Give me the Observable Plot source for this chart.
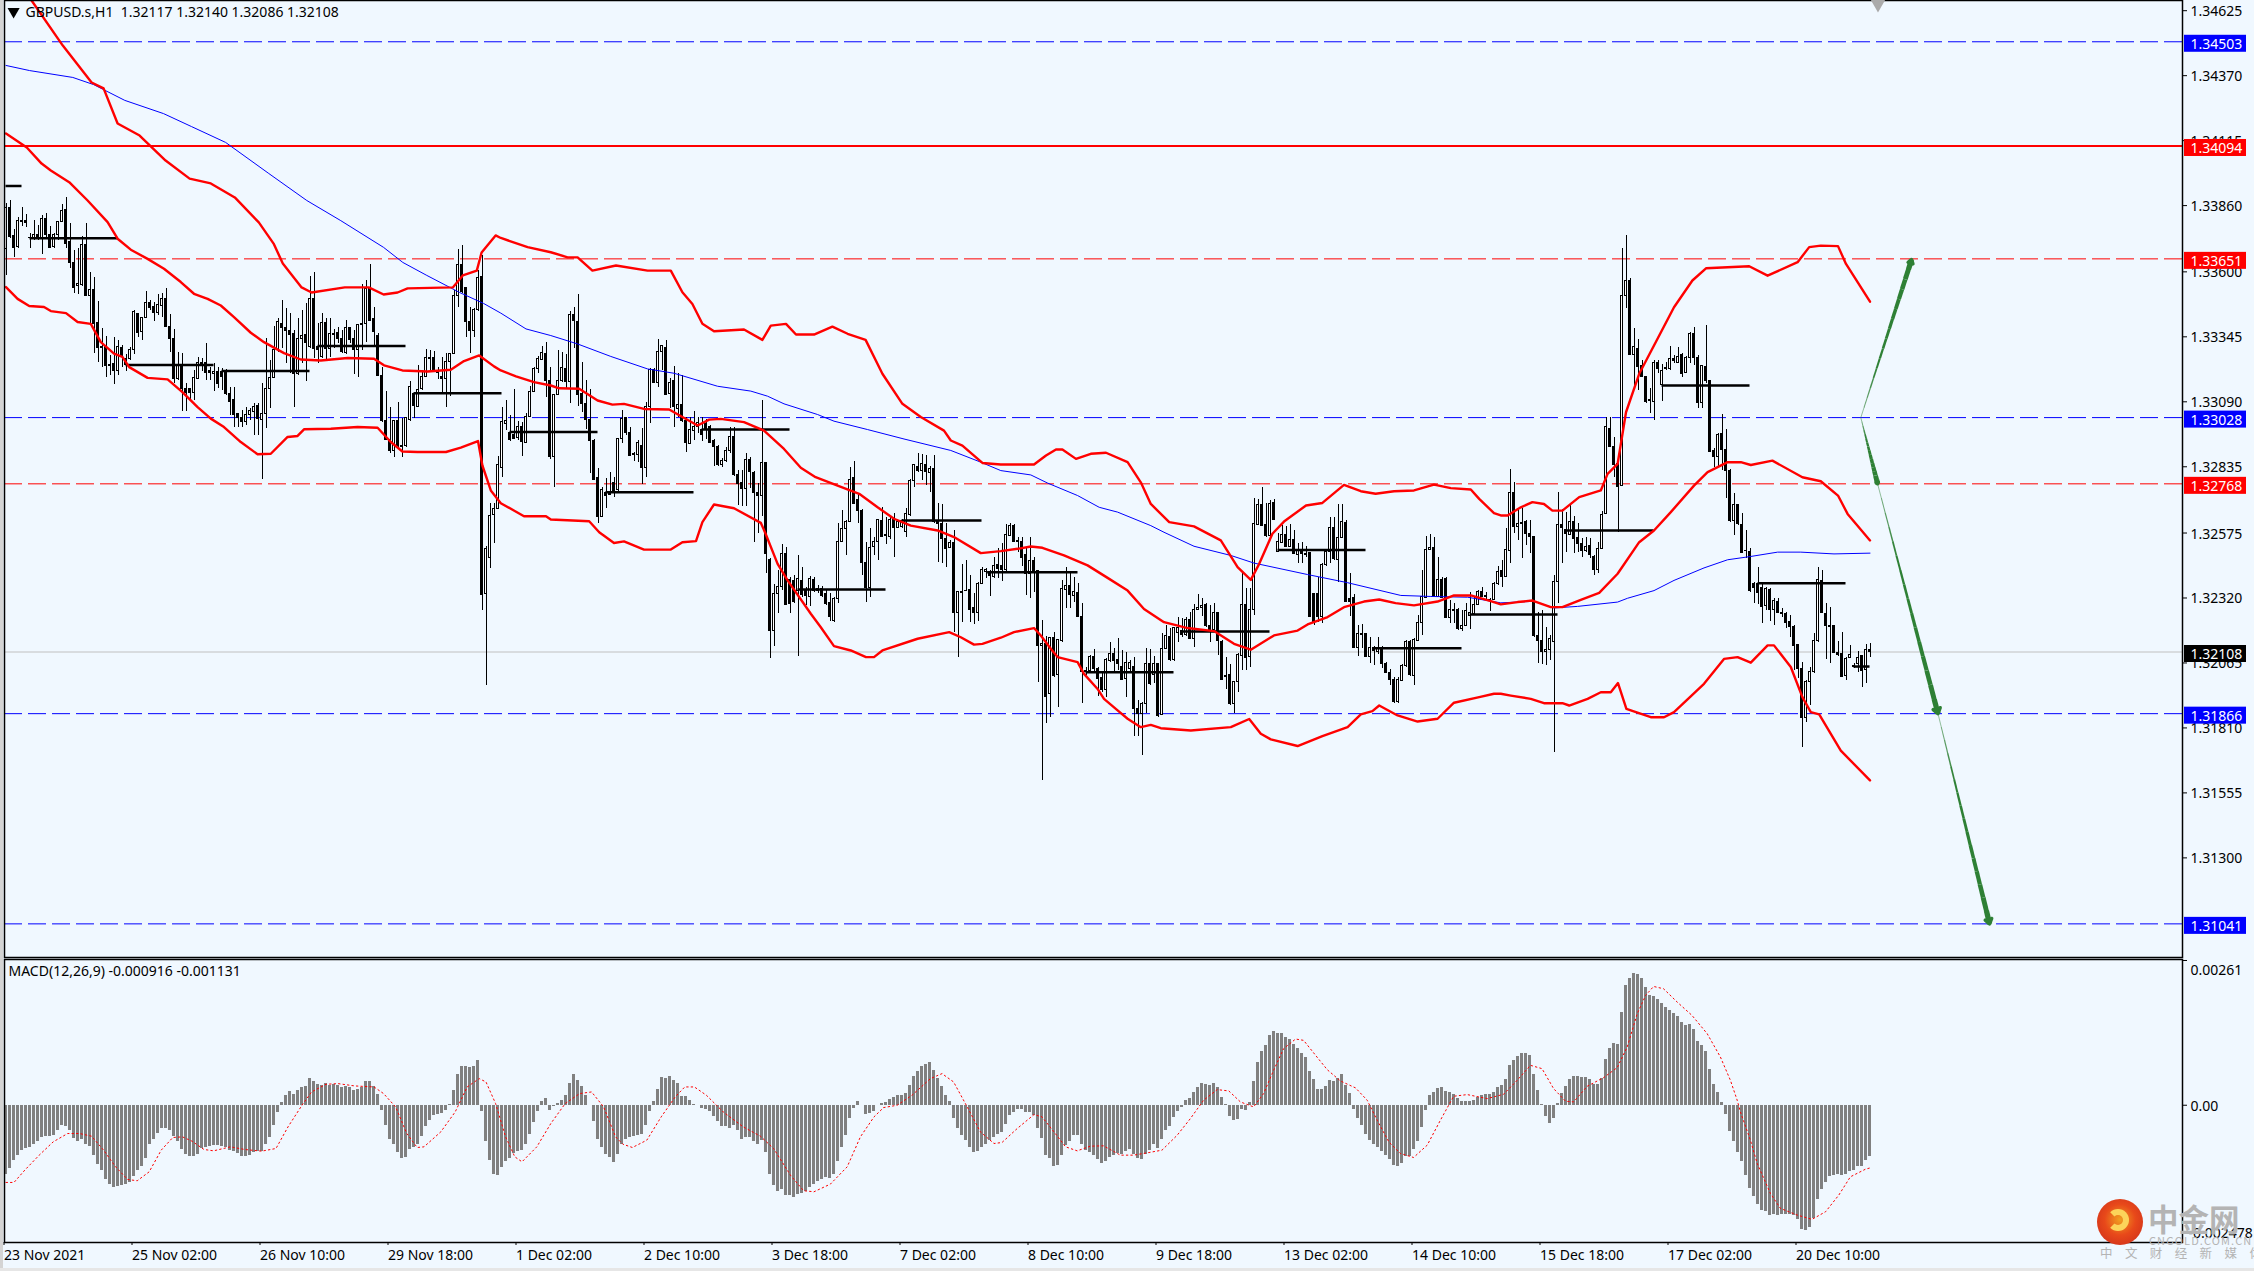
<!DOCTYPE html>
<html><head><meta charset="utf-8">
<script src="https://cdn.jsdelivr.net/npm/d3@7"></script>
<script src="https://cdn.jsdelivr.net/npm/@observablehq/plot@0.6"></script>
<style>
html,body{margin:0;padding:0;background:#f0f8ff;width:2254px;height:1271px;overflow:hidden}
#wrap{position:relative;width:2254px;height:1271px}
#wrap svg{position:absolute;left:0;display:block}
#stripL{position:absolute;left:0;top:0;width:3px;height:1268px;background:#d4d4d4}
#stripB{position:absolute;left:0;top:1268px;width:2254px;height:3px;background:#e6e6e6}
.wm{position:absolute;color:#b4b4b4;white-space:nowrap;font-family:"Noto Sans CJK SC"}
</style></head><body><div id="wrap"><div id="stripL"></div><div id="stripB"></div></div>
<script>
// All candle values are in points above 1.30000 (1 point = 0.00001)
const highs=[
3867,3880,3765,3815,3851,3825,3749,3802,3782,3821,
3828,3778,3749,3795,3863,3893,3789,3684,3691,3739,
3789,3599,3579,3484,3377,3347,3272,3344,3331,3311,
3275,3305,3449,3433,3420,3523,3488,3481,3511,3514,
3534,3432,3373,3282,3279,3161,3141,3213,3265,3259,
3318,3226,3239,3226,3220,3217,3148,3145,3046,3056,
3069,3063,3082,3082,3163,3337,3252,3386,3416,3488,
3455,3436,3370,3416,3449,3475,3583,3596,3396,3436,
3416,3416,3373,3383,3370,3409,3383,3368,3392,3551,
3566,3628,3462,3357,3226,3131,3069,3017,3086,3024,
3030,3170,3122,3233,3213,3296,3292,3288,3226,3265,
3279,3279,3527,3687,3704,3538,3462,3455,3606,3664,
2522,2691,2691,2875,
3069,3095,3036,3137,3014,3010,3045,3150,3226,3268,
3308,3321,3223,3118,3291,3285,3275,3444,3461,3513,
3243,3173,3137,2941,2827,2752,2788,2811,2794,2945,
3056,3030,2990,2892,2938,2984,3088,3219,3219,3334,
3311,3330,3180,3228,3202,3193,3030,3030,3052,3030,
3030,3019,2997,2941,2918,2866,2912,2988,2988,2820,
2820,2888,2873,2818,2768,3095,2853,2474,2373,2428,
2530,2519,2402,2408,2487,2441,2362,2404,2402,2369,
2365,2349,2336,2323,2614,2663,2624,2831,2854,2729,
2666,2539,2594,2559,2627,2674,2637,2635,2650,2624,
2627,2670,2784,2844,2888,2883,2879,2836,2879,2689,
2687,2611,2546,2585,2347,2451,2467,2408,2336,2382,
2438,2434,2428,2480,2513,
2533,2608,2611,2608,2559,2559,2519,2556,2480,2428,
2232,2169,2166,2186,2158,2389,2441,2425,2402,2376,
2297,2049,2094,2117,2049,2022,2081,2144,2121,2160,
2114,2107,2075,2088,1918,1911,2121,2117,2090,2064,
2182,2212,2199,2205,2245,2238,2245,2264,2294,2334,
2317,2297,2291,2297,2264,2153,2085,2059,1994,2101,
2415,2356,2356,2709,2705,2752,2689,2703,2705,2572,
2604,2601,2608,2585,2533,2539,2522,2497,2339,2402,
2454,2506,2635,2635,2686,2686,2624,2415,2334,2212,
2215,2182,2166,2130,2164,2130,2068,2038,2009,2009,
2059,2153,2153,2160,2251,2428,2561,2569,2556,2480,
2402,2402,2310,2297,2277,2271,2297,2343,2323,2349,
2362,2343,2317,2382,2444,
2467,2591,2823,2774,2670,2670,2624,2624,2561,2264,
2271,2205,2173,2408,2733,2666,2657,2683,2640,2611,
2552,2559,2552,2487,2536,2661,3030,3030,2948,2853,
3690,3742,3572,3376,3334,3252,3190,3141,3252,3252,
3235,3245,3308,3272,3302,3278,3268,3363,3383,3272,
3232,3389,3173,2905,2964,3040,2980,2823,2731,2687,
2653,2585,2513,2382,2438,2376,2362,2356,2317,2319,
2277,2262,2251,2212,2134,2066,1996,2048,2179,2441,
2428,2300,2284,2212,2151,2186,2088,2134,2062,2111,
2094,2136,2140];
const lows=[
3586,3730,3655,3691,3778,3773,3693,3723,3723,3667,
3730,3691,3693,3723,3795,3691,3612,3517,3511,3543,
3504,3396,3279,3246,3226,3187,3194,3157,3194,3226,
3207,3252,3276,3344,3331,3416,3449,3407,3429,3422,
3381,3285,3161,3174,3050,3050,3095,3095,3177,3207,
3174,3174,3132,3141,3135,3115,3037,2988,2988,2991,
2997,3017,2958,2958,2784,2984,3063,3180,3285,3298,
3239,3200,3069,3194,3239,3171,3298,3259,3239,3259,
3252,3265,3298,3318,3281,3275,3318,3196,3187,3292,
3324,3407,3305,3191,3010,2939,2886,2873,2912,2873,
2912,3014,3024,3067,3135,3184,3213,3204,3177,3122,
3067,3109,3276,3462,3517,3344,3279,3344,3446,2271,
1976,2436,2534,2671,
2794,2977,2935,2941,2938,2875,2925,3027,3125,3202,
3252,3108,2862,2755,3115,3167,3141,3082,3298,3071,
3049,2981,2807,2781,2614,2635,2670,2722,2716,2739,
2925,2958,2875,2857,2853,2764,2794,3003,3160,3147,
3213,3115,3062,2990,3030,3010,2892,2922,2938,2967,
2934,2941,2928,2836,2836,2833,2853,2888,2798,2683,
2679,2679,2748,2539,2572,2640,2417,2084,2130,2258,
2349,2290,2258,2297,2092,2323,2290,2287,2343,2336,
2323,2290,2229,2222,2300,2536,2487,2617,2687,2611,
2408,2304,2323,2487,2467,2559,2530,2548,2480,2591,
2591,2556,2640,2755,2814,2781,2761,2735,2614,2461,
2457,2438,2513,2186,2088,2222,2347,2225,2215,2229,
2373,2395,2327,2395,2395,
2386,2425,2561,2536,2500,2444,2330,2317,2343,1990,
1604,1826,1852,2009,1892,2147,2277,2277,2304,2242,
1907,2016,2029,2029,1933,1950,1931,2068,2029,2035,
1996,1928,2029,1777,1777,1702,1865,1977,1983,1852,
1859,2117,2071,2072,2147,2166,2170,2156,2124,2271,
2247,2205,2147,2192,2094,1996,1960,1898,1865,1950,
2035,2035,2049,2251,2607,2601,2556,2552,2624,2500,
2533,2517,2517,2491,2454,2457,2480,2242,2212,2225,
2219,2444,2457,2467,2382,2552,2301,2249,2123,2090,
2121,2085,2064,2055,2098,2042,2022,1977,1907,1907,
1994,2049,2012,1977,2151,2173,2317,2506,2323,2321,
2317,2238,2219,2221,2192,2190,2209,2195,2255,2291,
2321,2310,2268,2310,2369,
2362,2399,2454,2572,2546,2474,2526,2493,2166,2062,
2058,2055,2075,1715,2300,2454,2500,2565,2496,2500,
2478,2500,2474,2408,2415,2509,2648,2909,2794,2578,
2757,3457,3272,3154,3134,3184,3082,3043,3016,3200,
3091,3213,3213,3239,3243,3184,3200,3239,3232,3062,
3062,3160,2890,2833,2836,2820,2709,2617,2565,2604,
2493,2474,2343,2300,2294,2219,2271,2229,2212,2258,
2245,2199,2166,2035,2003,1732,1833,1898,2025,2144,
2258,2077,2062,2101,2090,2007,1996,2081,2042,2029,
1970,1986,2086];
const opens=[
3691,3851,3739,3697,3799,3799,3733,3732,3746,3732,
3808,3746,3697,3746,3795,3844,3717,3634,3544,3549,
3704,3505,3530,3399,3305,3305,3235,3239,3211,3302,
3259,3258,3292,3433,3364,3420,3477,3462,3438,3466,
3494,3383,3337,3178,3233,3141,3141,3124,3181,3240,
3242,3209,3200,3208,3208,3208,3122,3098,3041,3028,
3010,3037,3050,3072,3020,3043,3141,3184,3292,3396,
3379,3366,3357,3200,3335,3351,3305,3494,3305,3266,
3400,3298,3353,3361,3337,3281,3379,3337,3294,3392,
3394,3531,3416,3348,3191,3014,2941,2897,3014,2918,
2915,3020,3122,3069,3139,3187,3259,3262,3209,3187,
3178,3246,3279,3505,3625,3538,3405,3368,3451,3579,
2337,2475,2644,2671,
2831,3003,2968,2958,2948,2993,2929,3030,3128,3219,
3254,3278,3173,2873,3117,3171,3220,3169,3431,3405,
3121,3082,3019,2938,2791,2637,2733,2735,2772,2742,
2945,3027,2969,2886,2883,2918,2831,3069,3215,3163,
3287,3302,3121,3171,3062,3079,3014,2925,2977,2990,
2980,3001,2990,2938,2914,2842,2857,2895,2951,2803,
2771,2748,2862,2811,2734,2721,2849,2470,2190,2336,
2362,2493,2391,2386,2349,2385,2349,2323,2391,2356,
2356,2334,2302,2229,2317,2539,2591,2620,2791,2703,
2663,2457,2360,2519,2539,2624,2569,2559,2627,2595,
2598,2578,2644,2778,2836,2818,2842,2810,2827,2617,
2611,2552,2515,2536,2260,2340,2347,2352,2281,2260,
2375,2421,2421,2402,2450,
2447,2428,2565,2604,2542,2539,2487,2415,2465,2425,
2131,2140,1944,2164,2016,2153,2352,2369,2327,2340,
2245,2032,2035,2090,2042,2007,1957,2072,2101,2075,
2051,2001,2042,2051,1885,1863,1905,2062,2016,2062,
1859,2121,2166,2075,2182,2190,2173,2234,2160,2274,
2280,2291,2212,2196,2262,2149,2012,2016,1902,1991,
2094,2294,2088,2274,2608,2683,2607,2565,2692,2502,
2535,2568,2519,2546,2487,2504,2493,2496,2336,2336,
2245,2448,2500,2595,2470,2556,2615,2315,2321,2124,
2173,2179,2088,2124,2107,2124,2062,2026,1999,1911,
1996,2054,2149,2012,2153,2223,2321,2509,2517,2323,
2391,2395,2242,2271,2271,2199,2212,2251,2258,2293,
2345,2328,2314,2313,2373,
2425,2402,2506,2733,2598,2610,2617,2572,2559,2170,
2151,2107,2116,2147,2382,2607,2585,2569,2620,2555,
2533,2504,2523,2480,2428,2513,2648,2984,2914,2846,
2761,3507,3566,3274,3298,3232,3189,3098,3088,3243,
3154,3222,3219,3258,3244,3272,3202,3261,3357,3262,
3087,3228,3173,2895,2873,2964,2899,2820,2624,2683,
2608,2506,2500,2373,2375,2360,2288,2353,2274,2306,
2262,2258,2225,2205,2134,2042,1848,1990,2029,2151,
2386,2258,2211,2211,2103,2101,2013,2084,2055,2059,
2093,2038,2117];
const closes=[
3851,3736,3695,3798,3797,3793,3732,3746,3732,3808,
3743,3695,3746,3795,3838,3710,3634,3538,3553,3706,
3505,3530,3396,3301,3303,3230,3230,3211,3305,3268,
3233,3294,3441,3360,3420,3479,3459,3438,3468,3494,
3383,3337,3178,3230,3141,3124,3124,3184,3242,3242,
3204,3204,3208,3161,3187,3119,3089,3037,3028,3010,
3039,3052,3069,3024,3043,3141,3184,3292,3405,3379,
3366,3353,3200,3337,3348,3320,3494,3296,3292,3400,
3298,3357,3357,3335,3285,3379,3334,3294,3392,3396,
3531,3409,3364,3191,3014,2941,2897,3014,2915,2912,
3027,3150,3072,3137,3187,3263,3263,3207,3204,3180,
3248,3279,3505,3628,3521,3403,3368,3451,3577,2333,
2514,2640,2671,2840,
3010,3014,2941,2945,2990,2931,3032,3128,3219,3258,
3282,3173,2873,3118,3173,3223,3167,3431,3406,3115,
3082,3019,2935,2784,2637,2742,2722,2725,2739,2945,
3023,2967,2879,2882,2930,2831,3069,3215,3163,3287,
3308,3118,3163,3069,3078,3014,2927,2980,2993,3006,
2961,2980,2930,2912,2840,2859,2895,2951,2801,2768,
2748,2862,2814,2731,2721,2850,2493,2190,2336,2365,
2491,2294,2297,2304,2395,2330,2326,2395,2347,2349,
2327,2297,2245,2317,2539,2591,2620,2784,2689,2663,
2457,2360,2517,2539,2627,2561,2564,2627,2595,2620,
2624,2650,2781,2840,2820,2846,2814,2828,2617,2611,
2552,2513,2536,2260,2343,2345,2349,2274,2260,2375,
2430,2428,2406,2447,2434,
2428,2568,2604,2539,2539,2476,2415,2465,2421,2131,
2140,1931,2164,2012,2156,2356,2368,2330,2343,2245,
2029,2029,2090,2042,2003,1957,2075,2101,2072,2062,
1999,2064,2066,1885,1863,1905,2062,1983,2062,1855,
2121,2170,2075,2203,2203,2173,2234,2160,2274,2280,
2288,2209,2196,2262,2151,1999,2008,1902,1991,2098,
2294,2085,2274,2611,2683,2604,2563,2689,2627,2539,
2568,2519,2546,2493,2504,2493,2488,2245,2225,2245,
2450,2502,2595,2474,2556,2620,2304,2304,2124,2177,
2179,2088,2124,2111,2120,2062,2026,1999,1911,1999,
2055,2149,2016,2156,2223,2323,2509,2517,2326,2391,
2321,2242,2274,2268,2199,2212,2268,2260,2294,2345,
2323,2325,2310,2376,2421,
2404,2509,2733,2598,2611,2615,2572,2559,2169,2151,
2107,2116,2160,2382,2608,2594,2572,2620,2552,2533,
2504,2522,2487,2430,2513,2644,2990,2912,2842,2755,
3507,3566,3274,3307,3226,3186,3088,3092,3243,3219,
3209,3218,3258,3249,3265,3200,3262,3357,3262,3087,
3231,3173,2892,2873,2961,2899,2818,2624,2683,2611,
2496,2504,2347,2358,2340,2284,2356,2271,2310,2260,
2258,2221,2205,2131,2042,1848,1990,2029,2151,2389,
2260,2212,2208,2103,2098,2009,2081,2096,2051,2085,
2033,2117,2108];

// Bollinger bands and moving average: bar position, then points above 1.30000
const upperBar=[0,6.4,14.2,21.4,24.4,27.9,33.4,39.9,45.9,51.2,57.2,63.2,66.9,69.2,73.9,76.4,84.7,90.7,94.4,97.9,100.4,111.7,114.2,117.7,118.9,122.4,123.7,130.4,136.2,140.4,142.9,146.6,152.5,160.4,166.2,169.1,171.6,174.1,177,184.5,189.1,191.2,195,197.5,202,206.6,210.4,214.9,219.1,224.1,228.7,234.5,236.2,239.1,244.1,248.7,257,260,262.5,264.1,267.5,271.2,275,280.4,283.7,286.2,290.8,297,303.7,307.9,311.2,313.3,316.6,319.5,325,329.1,334.5,338.7,342.4,347,352,357,361.2,366.2,368.3,372,373.7,375.4,378.7,381.6,384.5,386.6,389.1,393.3,398.7,400.4,402.9,405,408.3,412,417,421.6,425,435.8,440.4,447.9,450.8,453.7,458,460,466];
const upperVal=[4810,4665,4488,4343,4320,4182,4135,4037,3966,3947,3892,3794,3711,3633,3539,3519,3539,3539,3511,3519,3535,3539,3586,3605,3676,3743,3733,3697,3677,3657,3657,3605,3625,3605,3605,3520,3474,3396,3367,3374,3333,3389,3396,3354,3354,3385,3357,3333,3200,3082,3030,2977,2938,2918,2850,2844,2844,2879,2903,2903,2866,2886,2890,2853,2774,2689,2618,2601,2546,2441,2391,2454,2572,2620,2683,2693,2764,2739,2729,2739,2742,2765,2751,2746,2709,2653,2644,2644,2676,2696,2689,2663,2663,2716,2742,2807,2846,3049,3200,3311,3461,3566,3614,3622,3585,3638,3697,3703,3701,3631,3483];
const midBar=[0,5.2,8.9,11.2,15.8,20.4,25.4,27.9,31.2,35.4,39.5,43.7,47,50.4,53.7,57,61.2,64.5,69.5,73.7,78.7,85.4,92,94.5,99.1,105.4,111.2,114.5,118.3,122,123.7,127.5,132,136.2,138.3,143.3,147.9,151.6,154.5,159.5,165.8,169.1,172.9,175.8,178.7,184.5,189.5,194.5,198.7,202.4,207.9,213.3,217.9,222,226.2,232.9,237,243.7,248.7,252.9,256.2,259.1,264.5,270.4,275.4,280.4,284.5,289.5,295.4,302,307,311.2,317,322.9,325.4,330.4,334.5,339.5,343.3,347.4,352,357.9,362,366.2,371.2,373.7,377.9,381.6,386.2,389.1,393.7,398.3,402.9,408.3,412,416.2,422,425.4,430.4,433.7,436.2,441.6,449.1,453.7,458,460.4,466];
const midVal=[4143,4088,4025,3998,3952,3880,3795,3730,3687,3651,3612,3560,3514,3494,3468,3422,3361,3324,3281,3256,3252,3262,3259,3233,3213,3209,3216,3250,3272,3229,3213,3190,3167,3154,3143,3141,3095,3079,3082,3062,3060,3030,2997,3020,3023,3010,2977,2905,2831,2794,2761,2729,2676,2631,2604,2585,2559,2496,2504,2513,2522,2517,2487,2448,2399,2349,2277,2225,2202,2190,2140,2117,2173,2192,2216,2245,2284,2306,2314,2300,2291,2306,2330,2330,2308,2295,2304,2310,2284,2284,2313,2340,2415,2539,2585,2657,2761,2814,2853,2853,2842,2859,2794,2778,2722,2650,2546];
const lowerBar=[0,2.9,5.8,9.5,11.2,15,17.9,21.2,23.7,27,29.1,30.8,35.4,40.4,44.1,47.9,51.2,54.5,58.7,62.9,66.2,70.4,72.9,74.5,81.2,87.9,92.9,96.2,99.1,102.9,110,113.7,118,119.1,121.2,123.7,129.5,135,136.2,145.8,148.3,152,154.5,159.5,166.2,169.1,172.5,174.1,177,182,188.7,189.9,192.9,195.4,201.2,203.7,207,211.2,215,217,219.1,227.9,235.8,238.7,242,244.1,248.7,252,257,258.7,261.2,262.9,267.9,269.5,272.9,274.5,277.9,280.4,283.7,286.2,288.7,296.2,306.2,310.8,313.7,316.2,322.9,329.1,335.4,338.7,341.6,343.3,347.9,352.9,357.9,362,368.3,372,373.7,376.2,381.2,384.5,389.1,390.8,395.4,398.7,401.2,403,405.1,411.2,414.5,417,424.5,429.5,432.9,436.2,440.4,442,446.2,449.1,451.2,453.3,458.7,466];
const lowerVal=[3540,3494,3466,3462,3446,3438,3403,3396,3324,3279,3266,3226,3184,3178,3128,3069,3024,2991,2932,2884,2886,2952,2956,2982,2984,2991,2988,2932,2895,2893,2893,2910,2936,2840,2742,2692,2641,2641,2628,2621,2578,2536,2542,2510,2510,2539,2543,2618,2687,2672,2615,2572,2454,2389,2258,2205,2131,2114,2088,2088,2114,2160,2186,2166,2137,2140,2164,2186,2202,2173,2121,2088,2068,2022,1963,1924,1879,1846,1813,1822,1809,1800,1813,1845,1787,1765,1739,1778,1813,1863,1876,1898,1859,1835,1846,1909,1931,1944,1944,1937,1924,1907,1907,1898,1924,1950,1950,1986,1885,1852,1852,1872,1983,2081,2088,2066,2134,2134,2049,1931,1872,1863,1721,1604];
const smaBar=[0,5.9,16.7,21.9,29.7,39.4,46.4,54.9,65.7,75.2,83.7,94.4,99.2,105.2,113.4,119.4,123.7,130,136.2,142.9,151.2,160.4,167,177.9,186.2,190.4,194.5,202.9,207,215.4,224.5,236.2,243.7,248.7,256.2,260.4,267.9,273.3,277.9,286.2,289.5,297,306.2,312,325.4,335.4,348.7,356.2,365.4,373.7,382,387,392.9,402.9,405.4,412,417,424.5,430.4,436.2,442.9,448.7,457,466];
const smaVal=[4410,4390,4363,4335,4273,4221,4170,4108,3986,3880,3801,3696,3637,3586,3519,3476,3438,3376,3350,3317,3268,3219,3202,3151,3132,3112,3082,3040,3014,2981,2944,2899,2853,2820,2803,2771,2722,2676,2657,2604,2578,2523,2487,2457,2412,2380,2330,2326,2323,2301,2307,2281,2287,2304,2319,2349,2389,2438,2470,2483,2500,2500,2493,2496];

// Short black daily-open segments: first bar, last bar, points
const dayStart=[0,6,30,54,78,102,126,150,174,198,224,245.4,270,294,318,342,366,390,414,438,462];
const dayEnd=[4,28,52,76,100,124,148,172,196,220,244,268,292,316,340,364,388,412,436,460,466];
const dayVal=[3937,3732,3234,3211,3309,3124,2971,2735,2981,2353,2624,2421,2029,2188,2508,2123,2255,2585,3154,2378,2051];

// MACD histogram, in millionths
const macdHist=[
-1242,-1140,-1002,-900,-810,-780,-762,-702,-660,-582,
-570,-558,-540,-462,-360,-378,-450,-600,-660,-612,
-702,-750,-900,-1062,-1182,-1332,-1428,-1488,-1458,-1440,
-1428,-1398,-1290,-1182,-1110,-960,-702,-612,-510,-420,
-420,-450,-570,-660,-792,-882,-930,-930,-882,-780,
-762,-750,-732,-732,-750,-762,-822,-840,-870,-918,
-918,-900,-858,-840,-840,-702,-582,-360,-138,48,
180,252,198,270,318,342,486,432,378,360,
390,348,378,360,312,330,312,258,288,312,
432,432,342,198,-90,-360,-618,-702,-852,-954,
-942,-798,-762,-702,-558,-390,-270,-192,-174,-150,
-90,6,270,558,702,702,672,702,810,-108,
-660,-1002,-1242,-1260,-1128,-1020,-960,-870,-840,-810,
-702,-522,-318,-108,72,126,-90,-30,30,78,
180,390,558,450,330,180,-12,-288,-612,-762,
-888,-948,-1026,-882,-702,-612,-588,-570,-540,-522,
-360,-108,72,288,492,486,510,438,390,162,
162,90,18,-12,-60,-78,-120,-210,-300,-378,
-390,-420,-372,-450,
-612,-576,-576,-648,-702,-630,-846,-1242,-1440,-1548,
-1512,-1620,-1620,-1656,-1602,-1584,-1560,-1476,-1422,-1368,
-1332,-1296,-1314,-1242,-1008,-756,-540,-234,-54,72,
-12,-162,-144,-108,-12,36,54,108,144,180,
180,216,360,522,612,702,738,774,630,486,
342,180,72,-234,-414,-540,-630,-756,-846,-828,
-756,-702,-630,-576,-522,-486,-342,-180,-126,-72,
-72,-126,-126,-180,-414,-594,-900,-954,-1098,-1080,
-900,-720,-648,-540,-540,-702,-810,-846,-900,-972,
-1044,-1008,-936,-900,-864,-882,-828,-792,-882,-954,
-972,-882,-810,-702,-774,-612,-450,-378,-216,-108,
-36,90,126,234,324,396,378,360,396,324,
144,18,-198,-270,-252,
-72,-90,54,432,774,972,1080,1260,1332,1296,
1296,1224,1188,1098,1026,936,864,612,468,288,
288,342,450,432,486,558,360,216,-72,-234,
-360,-522,-630,-702,-756,-828,-900,-972,-1080,-1098,
-1044,-918,-918,-792,-648,-396,-90,180,234,306,
324,252,234,198,126,72,72,72,90,144,
180,198,198,234,324,360,468,720,810,882,
936,936,900,558,270,18,-198,-324,-234,36,
216,342,468,522,522,504,504,468,378,378,
486,828,1026,1116,1098,1674,2160,2286,2376,2358,
2286,2124,1980,1962,1908,1836,1764,1710,1656,1602,
1494,1440,1458,1368,1152,1080,972,648,378,234,
54,-162,-468,-648,-846,
-1020,-1260,-1500,
-1650,-1782,-1890,-1908,-1980,-1962,-1980,-1962,-1962,-1962,
-1980,-2052,-2232,-2250,-2196,-2034,-1692,-1512,-1386,-1278,
-1260,-1242,-1260,-1242,-1188,-1170,-1098,-1098,-990,-916];
const signalBar=[0,2,4.7,8.3,11.8,15.4,18.4,21.4,24.4,27.4,30.4,32.8,35.8,38.8,41.7,44.1,46.5,49.5,51.9,56.1,59.7,63.9,67.5,70.5,74,76.4,80,83,87.2,92,94.4,97.4,100.2,102.8,104.5,108.7,112.3,115.3,118.3,120,122.4,124.9,127.2,129,132.7,136.2,139.8,143.4,146.4,149.4,152.4,154.2,156.6,160.2,163.8,167.3,169.7,172.1,175.1,179.3,184.3,188.6,191.9,196.1,199.4,202,206.1,210.3,213.6,217,219.4,222.8,226.5,231.1,234,236.9,240.3,243.6,247,249,252.8,257,259,262,264.9,267.8,271.1,274.4,278.6,281.9,285.3,289,292.8,296.1,299.4,302.8,305.7,308.6,311.9,314.4,316.9,319.4,322.4,324.4,327.4,330.3,333.6,337.4,340.3,342.8,345.7,348.6,351.9,355.3,358.6,361.9,365.3,370.3,374.4,377.8,381.1,384,386.9,389.9,391.9,395.3,399.4,402.8,405.3,407.8,409.9,411.9,414.4,417.8,421.5,425.3,428.6,431.1,432.8,433.6,436.1,437.8,441.1,443.6,447.8,451.5,454.9,458.2,461.1,464.9,466];
const signalVal=[-1392,-1392,-1170,-900,-660,-510,-510,-558,-810,-1110,-1338,-1362,-1200,-810,-582,-570,-648,-798,-822,-750,-798,-828,-780,-390,0,240,378,390,348,330,210,-30,-510,-762,-750,-480,-120,330,480,420,30,-570,-930,-1020,-750,-330,30,210,240,-30,-570,-702,-762,-630,-210,150,330,330,180,-120,-390,-558,-780,-1260,-1542,-1560,-1422,-1110,-570,-210,-42,0,180,480,570,420,-30,-480,-690,-672,-420,-168,-210,-480,-750,-822,-738,-732,-900,-900,-858,-810,-540,-240,90,282,258,60,-30,210,630,1020,1194,1170,900,642,438,312,90,-270,-660,-870,-942,-720,-270,162,192,120,198,450,720,660,300,72,60,342,498,678,1050,1650,1980,2142,2100,1860,1620,1290,870,450,90,-120,-630,-1050,-1590,-1860,-1980,-2058,-1920,-1620,-1290,-1152,-1131];

// Horizontal price levels
const levelPrice=[1.34503,1.34094,1.33651,1.33028,1.32768,1.31866,1.31041];
const levelColor=["#0000ff","#ff0000","#ff0000","#0000ff","#ff0000","#0000ff","#0000ff"];
const levelSolid=[false,true,false,false,false,false,false];
const lastPrice=1.32108;

// Axis ticks and labels
const priceTicks=[1.34625,1.34370,1.34115,1.33860,1.33600,1.33345,1.33090,1.32835,1.32575,1.32320,1.32065,1.31810,1.31555,1.31300];
const timeTicks=[0,32,64,96,128,160,192,224,256,288,320,352,384,416,448];
const timeLabels=["23 Nov 2021","25 Nov 02:00","26 Nov 10:00","29 Nov 18:00","1 Dec 02:00","2 Dec 10:00","3 Dec 18:00","7 Dec 02:00","8 Dec 10:00","9 Dec 18:00","13 Dec 02:00","14 Dec 10:00","15 Dec 18:00","17 Dec 02:00","20 Dec 10:00"];
const macdTickVals=[0.00261,0,-0.00229];
const macdLabelText=["0.00261","0.00","-0.002478"];

// Forecast arrows: start bar/points to end bar/points
const arrowBar1=[463.7,463.7,467.9,483];
const arrowVal1=[3028,3028,2768,1866];
const arrowBar2=[476.4,467.9,483,495.9];
const arrowVal2=[3648,2768,1866,1041];

const title="GBPUSD.s,H1  1.32117 1.32140 1.32086 1.32108";
const macdTitle="MACD(12,26,9) -0.000916 -0.001131";

const FONT='"Noto Sans", sans-serif';
const P=v=>1.3+v/1e5;
const M=v=>v/1e6;
const xDomain=[-0.375,544.125];
const bars=opens.map((o,i)=>({i,o:P(o),c:P(closes[i]),h:P(highs[i]),l:P(lows[i])}));
const series=(b,v)=>b.map((x,i)=>({x,y:P(v[i])}));
const levels=levelPrice.map((p,i)=>({p,color:levelColor[i],solid:levelSolid[i]}));
const days=dayStart.map((s,i)=>({x1:s,x2:dayEnd[i],y:P(dayVal[i])}));
const pxPrice=3.925e-5;
const tags=[...levels,{p:lastPrice,color:"#000000"}];

// tapered forecast arrows
const taper=[],heads=[];
const N=16;
arrowBar1.forEach((b,k)=>{
  const b2=arrowBar2[k],a=P(arrowVal1[k]),c=P(arrowVal2[k]);
  for(let j=0;j<N;j++){
    const f1=j/N,f2=(j+1)/N;
    taper.push({x1:b+(b2-b)*f1,x2:b+(b2-b)*f2,y1:a+(c-a)*f1,y2:a+(c-a)*f2,w:0.7+4.6*Math.pow(f2,1.3),o:Math.min(1,0.5+f2*1.5)});
  }
  heads.push({x1:b+(b2-b)*0.92,x2:b2,y1:a+(c-a)*0.92,y2:c});
});

const main=Plot.plot({
  width:2254,height:958,marginTop:0,marginBottom:1,marginLeft:4,marginRight:72,
  style:{background:"transparent",overflow:"visible",fontFamily:FONT,fontSize:"14px",color:"#000"},
  x:{domain:xDomain,axis:null},
  y:{domain:[1.30909,1.34665],axis:null},
  marks:[
    Plot.ruleY(levels.filter(d=>!d.solid),{y:"p",stroke:"color",strokeWidth:1,strokeDasharray:"18,6"}),
    Plot.ruleY(levels.filter(d=>d.solid),{y:"p",stroke:"color",strokeWidth:2}),
    Plot.ruleY([lastPrice],{stroke:"#c0c0c0",strokeWidth:1}),
    Plot.ruleX(bars,{x:"i",y1:"l",y2:"h",stroke:"#000",strokeWidth:1,shapeRendering:"crispEdges"}),
    Plot.rect(bars,{x1:d=>d.i-0.25,x2:d=>d.i+0.25,y1:"o",y2:"c",fill:d=>d.c>=d.o?"#ffffff":"#000000",stroke:"#000",strokeWidth:1,shapeRendering:"crispEdges"}),
    Plot.ruleY(days,{x1:"x1",x2:"x2",y:"y",stroke:"#000",strokeWidth:2.5}),
    Plot.line(series(smaBar,smaVal),{x:"x",y:"y",stroke:"#0000ff",strokeWidth:1,clip:true}),
    Plot.line(series(upperBar,upperVal),{x:"x",y:"y",stroke:"#ff0000",strokeWidth:2.4,clip:true}),
    Plot.line(series(midBar,midVal),{x:"x",y:"y",stroke:"#ff0000",strokeWidth:2.4,clip:true}),
    Plot.line(series(lowerBar,lowerVal),{x:"x",y:"y",stroke:"#ff0000",strokeWidth:2.4,clip:true}),
    Plot.link(taper,{x1:"x1",y1:"y1",x2:"x2",y2:"y2",stroke:"#2e8035",strokeWidth:"w",strokeOpacity:"o",strokeLinecap:"butt"}),
    Plot.arrow(heads,{x1:"x1",y1:"y1",x2:"x2",y2:"y2",stroke:"#2e8035",strokeWidth:3.5,headLength:9,headAngle:70,bend:0}),
    Plot.axisY({anchor:"right",ticks:priceTicks,tickFormat:()=>"",tickSize:4,label:null,stroke:"#000"}),
    Plot.text(priceTicks,{x:xDomain[1],y:d=>d,dx:8,dy:1,text:d=>d.toFixed(5),textAnchor:"start",fontSize:14,fill:"#000"}),
    Plot.rect(tags,{x1:xDomain[1]+0.5,x2:xDomain[1]+16,y1:d=>d.p-10.5*pxPrice,y2:d=>d.p+6.5*pxPrice,fill:"color"}),
    Plot.text(tags,{x:xDomain[1],y:"p",dx:8,dy:3,text:d=>d.p.toFixed(5),textAnchor:"start",fill:"#fff",fontSize:14}),
    Plot.frame({stroke:"#000",strokeWidth:1.5}),
    Plot.text([title],{frameAnchor:"top-left",dx:21,dy:7,lineAnchor:"top",fontSize:14,fill:"#000",textAnchor:"start"}),
    Plot.dot([1.34622],{x:1.9,y:d=>d,symbol:"triangle",rotate:180,r:4.5,fill:"#000",stroke:"none"}),
    Plot.dot([1.34655],{x:468,y:d=>d,symbol:"triangle",rotate:180,r:6,fill:"#aaaaaa",stroke:"none"})
  ]
});
main.style.top="0px";
document.getElementById("wrap").appendChild(main);

const macdBars=macdHist.map((v,i)=>({i,v:M(v)}));
const macd=Plot.plot({
  width:2254,height:313,marginTop:1,marginBottom:29,marginLeft:4,marginRight:72,
  style:{background:"transparent",overflow:"visible",fontFamily:FONT,fontSize:"14px",color:"#000"},
  x:{domain:xDomain,axis:null},
  y:{domain:[-0.002475,0.002628],axis:null},
  marks:[
    Plot.rect(macdBars,{x1:d=>d.i-0.375,x2:d=>d.i+0.375,y1:0,y2:"v",fill:"#808080",shapeRendering:"crispEdges"}),
    Plot.line(signalBar.map((x,i)=>({x,y:M(signalVal[i])})),{x:"x",y:"y",stroke:"#ff0000",strokeWidth:1,strokeDasharray:"1.5,3"}),
    Plot.axisY({anchor:"right",ticks:macdTickVals,tickFormat:()=>"",tickSize:4,label:null,stroke:"#000"}),
    Plot.text([macdTickVals[0]],{x:xDomain[1],y:d=>d,dx:8,dy:10,text:()=>macdLabelText[0],textAnchor:"start",fontSize:14,fill:"#000"}),
    Plot.text([macdTickVals[1]],{x:xDomain[1],y:d=>d,dx:8,dy:1,text:()=>macdLabelText[1],textAnchor:"start",fontSize:14,fill:"#000"}),
    Plot.text([macdTickVals[2]],{x:xDomain[1],y:d=>d,dx:6,dy:1,text:()=>macdLabelText[2],textAnchor:"start",fontSize:14,fill:"#000"}),
    Plot.axisX({anchor:"bottom",ticks:timeTicks,tickFormat:d=>timeLabels[timeTicks.indexOf(d)],tickSize:3,tickPadding:5,fontSize:14,textAnchor:"start",dx:-2,label:null,stroke:"#000",fill:"#000"}),
    Plot.frame({stroke:"#000",strokeWidth:1.5}),
    Plot.text([macdTitle],{frameAnchor:"top-left",dx:4,dy:7,lineAnchor:"top",fontSize:14,fill:"#000",textAnchor:"start"})
  ]
});
macd.style.top="958px";
document.getElementById("wrap").appendChild(macd);

// Watermark
const wrap=document.getElementById("wrap");
const logo=document.createElement("div");
logo.style.cssText="position:absolute;left:2097px;top:1199px;width:46px;height:46px;border-radius:50%;background:radial-gradient(circle at 50% 45%,#f0a020 0%,#e8491a 45%,#c8281c 100%)";
const swirl=document.createElement("div");
swirl.style.cssText="position:absolute;left:10px;top:10px;width:22px;height:22px;border-radius:50%;border:6px solid #fcd45a;box-sizing:border-box;border-left-color:transparent";
logo.appendChild(swirl);wrap.appendChild(logo);
[["中金网",2148,1196,30.5,"700",0],["CNGOLD.COM.CN",2149,1232,11,"400",1.1],["中 文 财 经 新 媒 体",2100,1243,12.5,"400",4.8]].forEach(([t,l,tp,fs,fw,ls])=>{
  const d=document.createElement("div");d.className="wm";d.textContent=t;
  d.style.left=l+"px";d.style.top=tp+"px";d.style.fontSize=fs+"px";d.style.fontWeight=fw;d.style.letterSpacing=ls+"px";
  wrap.appendChild(d);
});
</script></body></html>
